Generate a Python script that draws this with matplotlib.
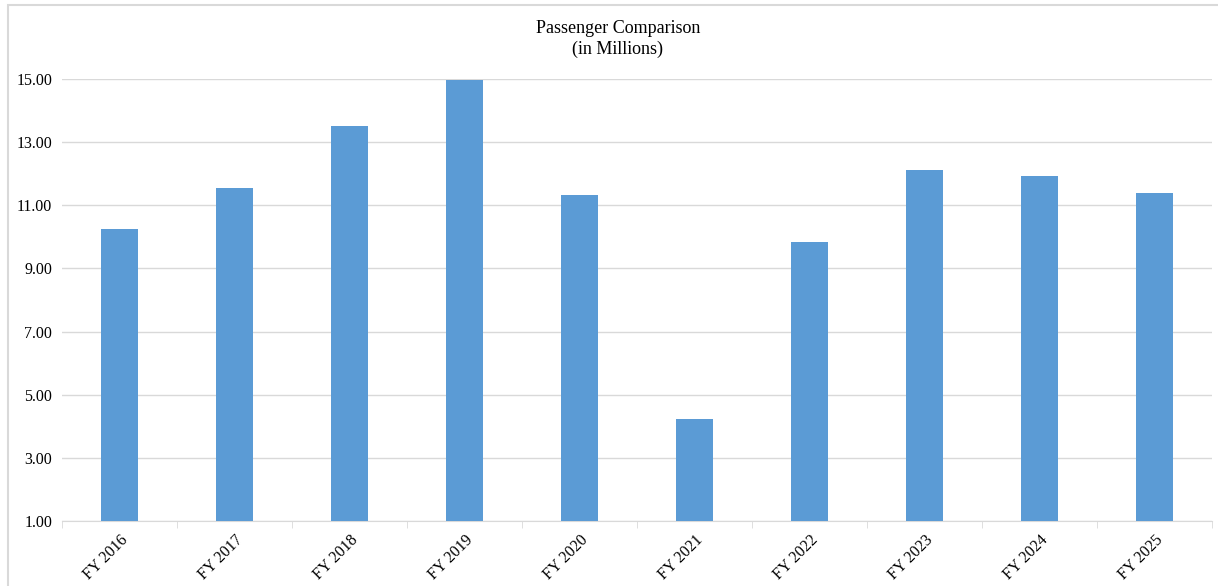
import numpy as np
import matplotlib
matplotlib.use("Agg")
import matplotlib.pyplot as plt
from matplotlib.patches import Rectangle

years = ["FY 2016", "FY 2017", "FY 2018", "FY 2019", "FY 2020",
         "FY 2021", "FY 2022", "FY 2023", "FY 2024", "FY 2025"]
passengers = [10.25, 11.55, 13.51, 14.97, 11.33, 4.23, 9.84, 12.12, 11.93, 11.39]
yticks = [1, 3, 5, 7, 9, 11, 13, 15]

plt.rcParams['font.family'] = ['Liberation Serif', 'DejaVu Serif']

fig = plt.figure(figsize=(12.18, 5.86), dpi=100)
ax = fig.add_axes([62 / 1218, 1 - 521 / 586, 1150 / 1218, 442 / 586])

x = np.arange(len(years))
ax.bar(x, passengers, width=0.32, color="#5B9BD5", zorder=3)

ax.set_ylim(1, 15)
ax.set_xlim(-0.5, len(years) - 0.5)
ax.set_yticks(yticks)
ax.set_yticklabels(["%.2f" % v for v in yticks], fontsize=11.5)
ax.yaxis.grid(True, color="#D9D9D9", linewidth=1)
ax.set_axisbelow(True)

ax.set_xticks(x)
ax.set_xticklabels(years, rotation=45, ha="right", rotation_mode="anchor", fontsize=11.5)
ax.set_xticks(np.arange(len(years) + 1) - 0.5, minor=True)
ax.tick_params(axis="x", which="major", length=0, pad=8)
ax.tick_params(axis="x", which="minor", length=5, color="#D9D9D9")
ax.tick_params(axis="y", length=0, pad=7)

for s in ["top", "right", "left"]:
    ax.spines[s].set_visible(False)
ax.spines["bottom"].set_color("#D9D9D9")

fig.text(618 / 1218, 1 - 39 / 586, "Passenger Comparison\n(in Millions)",
         ha="center", va="center", fontsize=13, linespacing=1.35)

# chart area border (only top and left edges show)
fig.patches.append(Rectangle((8 / 1218, -0.1), 1, 1.1 - 5 / 586, transform=fig.transFigure,
                             fill=False, edgecolor="#D9D9D9", linewidth=1.5))

fig.savefig("out.png", dpi=100)
